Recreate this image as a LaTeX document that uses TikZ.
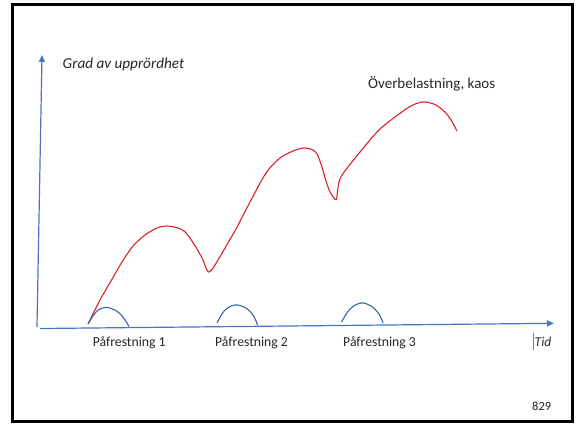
\documentclass[tikz,border=0pt]{standalone}
\usepackage{fontspec}
\setmainfont{Carlito}
\usetikzlibrary{arrows.meta}
\definecolor{axisblue}{RGB}{72,117,200}
\definecolor{bumpblue}{RGB}{58,98,170}
\definecolor{stressred}{RGB}{222,32,38}
\definecolor{inkgray}{RGB}{38,38,38}
\tikzset{
  axis/.style={draw=axisblue, line width=1.2pt, -{Triangle[length=7pt,width=6pt]}},
  bump/.style={draw=bumpblue, line width=1.1pt},
  stress/.style={draw=stressred, line width=1.1pt, line join=round},
  label/.style={inner sep=0pt, anchor=base west, text=inkgray, font=\fontsize{13.7}{15}\selectfont},
}
\begin{document}
\begin{tikzpicture}[x=1pt, y=-1pt]
\useasboundingbox (0,0) rectangle (577,424);
% frame
\draw[line width=2.8pt] (12.5,4.5) rectangle (572.5,421.5);

% axes
\coordinate (yfoot) at (37,327);
\coordinate (ytop) at (42,55);
\coordinate (xfoot) at (40,328.5);
\coordinate (xtip) at (554,323.3);
\draw[axis] (yfoot) -- (ytop);
\draw[axis] (xfoot) -- (xtip);

% rising agitation curve
\draw[stress] plot[smooth, tension=0.5] coordinates {
  (88,324) (100,300) (111,281) (122,262) (133,246) (145,235) (157,228)
  (167,226) (178,228) (184,231) (190,238) (197,249) (203,260) (206,268)
  (208.5,272) (211,270.5) (215,265) (225,248) (236,229) (250,202) (266,173)
  (280,158) (293,151) (303,148) (312,149.5) (317,154) (321,164) (326,181)
  (330,192) (334,198) (336.5,199.5) (337.5,191) (339,182) (342,175) (348,167)
  (360,152) (380,129) (406,109) (418,103) (426,102) (436,105) (445,112)
  (451,120) (457,131)};

% stress events
\draw[bump] plot[smooth, tension=0.6] coordinates {
  (88,324) (96,312) (105,307.5) (115,310) (123,317) (129,326.5)};
\draw[bump] plot[smooth, tension=0.6] coordinates {
  (217,323) (225,310) (235,305) (245,307.5) (253,315) (257.5,325)};
\draw[bump] plot[smooth, tension=0.6] coordinates {
  (341.5,322) (350,309) (361,303) (371,306) (379,314) (383,323)};

% labels
\node[label, font=\fontsize{15.2}{17}\selectfont\itshape] (ylabel) at (62.5,68.3) {Grad av upprördhet};
\node[label, font=\fontsize{15}{17}\selectfont] (chaos) at (368,88.3) {Överbelastning, kaos};
\node[label] (p1) at (92.7,346.7) {Påfrestning 1};
\node[label] (p2) at (215,346.7) {Påfrestning 2};
\node[label] (p3) at (343,346.7) {Påfrestning 3};
\node[label, font=\fontsize{13.5}{15}\selectfont\itshape] (tid) at (534.5,346) {Tid};
\draw[gray, line width=0.6pt] ([xshift=-1.5pt]tid.base west) ++(0,3.5) -- ++(0,-17);
\node[label, font=\fontsize{12.5}{14}\selectfont] (page) at (532,410) {829};
\end{tikzpicture}
\end{document}
